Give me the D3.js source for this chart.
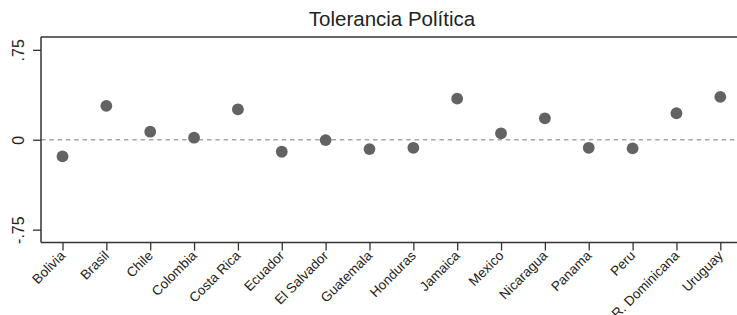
<!DOCTYPE html>
<html>
<head>
<meta charset="utf-8">
<script src="https://cdn.jsdelivr.net/npm/d3@7"></script>
<style>
	body { margin: 0; background: #fff; }
	svg { display: block; font-family: "Liberation Sans", Arial, sans-serif; }
</style>
</head>
<body>
<div id="chart"></div>
<script>

var countries = ["Bolivia", "Brasil", "Chile", "Colombia", "Costa Rica", "Ecuador", "El Salvador",
	"Guatemala", "Honduras", "Jamaica", "Mexico", "Nicaragua", "Panama", "Peru", "R. Dominicana", "Uruguay"];
var tolerance = [-0.139, 0.282, 0.067, 0.017, 0.254, -0.100, -0.003,
	-0.078, -0.067, 0.343, 0.054, 0.179, -0.067, -0.072, 0.221, 0.357];
var yTicks = [-0.75, 0, 0.75];
var yTickLabels = ["-.75", "0", ".75"];
var title = "Tolerancia Política";

var width = 737, height = 315;
var margin = { top: 37, right: 0, bottom: 73, left: 41 };

var svg = d3.select("#chart").append("svg")
	.attr("width", width)
	.attr("height", height);

var x = d3.scalePoint()
	.domain(countries)
	.range([62.5, 720.3]);

var y = d3.scaleLinear()
	.domain([-0.857, 0.857])
	.range([height - margin.bottom + 0.5, margin.top]);

// title
svg.append("text")
	.attr("x", 392)
	.attr("y", 26)
	.attr("text-anchor", "middle")
	.style("font-size", "20.5px")
	.style("fill", "#222")
	.text(title);

// zero reference line
svg.append("line")
	.attr("x1", margin.left)
	.attr("x2", width)
	.attr("y1", y(0))
	.attr("y2", y(0))
	.style("stroke", "#a8a8a8")
	.style("stroke-width", 1.5)
	.style("stroke-dasharray", "4.5,3.8");

// frame: top line
svg.append("line")
	.attr("x1", margin.left)
	.attr("x2", width)
	.attr("y1", margin.top)
	.attr("y2", margin.top)
	.style("stroke", "#333")
	.style("stroke-width", 1.5);

// y axis
var yAxis = d3.axisLeft(y)
	.tickValues(yTicks)
	.tickSize(8)
	.tickFormat(function(d, i) { return yTickLabels[i]; });

var gy = svg.append("g")
	.attr("transform", "translate(" + margin.left + ",0)")
	.call(yAxis);

gy.select(".domain")
	.attr("d", "M0," + margin.top + "V" + y.range()[0])
	.style("stroke", "#333")
	.style("stroke-width", 1.5);
gy.selectAll(".tick line").style("stroke", "#333").style("stroke-width", 1.3);
gy.selectAll(".tick text")
	.attr("x", null)
	.attr("dy", null)
	.attr("transform", "translate(-17,0) rotate(-90)")
	.attr("text-anchor", "middle")
	.style("font-size", "16px")
	.style("font-family", "Liberation Sans, Arial, sans-serif")
	.style("fill", "#222");

// x axis
var xAxis = d3.axisBottom(x)
	.tickSize(8)
	.tickSizeOuter(0);

var gx = svg.append("g")
	.attr("transform", "translate(0," + y.range()[0] + ")")
	.call(xAxis);

gx.select(".domain")
	.attr("d", "M" + margin.left + ",0H" + width)
	.style("stroke", "#333")
	.style("stroke-width", 1.5);
gx.selectAll(".tick line").style("stroke", "#333").style("stroke-width", 1.3);
gx.selectAll(".tick text")
	.attr("y", null)
	.attr("dy", null)
	.attr("transform", "translate(3,14) rotate(-45)")
	.attr("text-anchor", "end")
	.style("font-size", "13.5px")
	.style("font-family", "Liberation Sans, Arial, sans-serif")
	.style("fill", "#222");

// points
svg.selectAll(".pt")
	.data(countries)
	.enter()
	.append("circle")
	.attr("class", "pt")
	.attr("cx", function(d) { return x(d); })
	.attr("cy", function(d, i) { return y(tolerance[i]); })
	.attr("r", 5.9)
	.style("fill", "#636363");

</script>
</body>
</html>
